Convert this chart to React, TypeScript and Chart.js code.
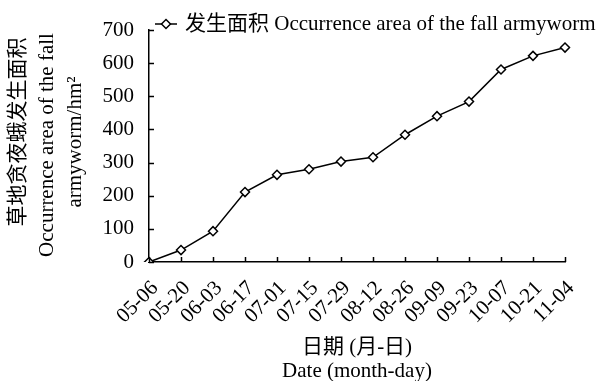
import React, { useEffect, useRef } from "react";
import { Chart, registerables } from "chart.js";

Chart.register(...registerables);

const categories = ["05-06", "05-20", "06-03", "06-17", "07-01", "07-15", "07-29", "08-12", "08-26", "09-09", "09-23", "10-07", "10-21", "11-04"];
const areaValues = [0, 36, 93, 211, 263, 280, 303, 316, 384, 440, 484, 581, 622, 647];
const seriesLabel = "发生面积 Occurrence area of the fall armyworm";
const yTitleLines = ["草地贪夜蛾发生面积", "Occurrence area of the fall", "armyworm/hm²"];
const xTitleLines = ["日期 (月-日)", "Date (month-day)"];
const yMin = 0;
const yMax = 700;
const yStep = 100;

const FONT = "'Liberation Serif', 'Times New Roman', 'Noto Sans CJK SC', serif";
const FS = 21;

const decorPlugin = {
  id: "decor",
  afterDraw(chart: any) {
    const ctx = chart.ctx;
    const xs = chart.scales.x;
    const ys = chart.scales.y;
    const area = chart.chartArea;
    ctx.save();
    ctx.strokeStyle = "#000";
    ctx.lineWidth = 1.5;
    // inward ticks on y
    ys.ticks.forEach((_t: any, i: number) => {
      const py = Math.round(ys.getPixelForTick(i)) + 0.5;
      ctx.beginPath();
      ctx.moveTo(area.left, py);
      ctx.lineTo(area.left + 5, py);
      ctx.stroke();
    });
    // inward ticks on x
    xs.ticks.forEach((_t: any, i: number) => {
      const px = Math.round(xs.getPixelForTick(i)) + 0.5;
      ctx.beginPath();
      ctx.moveTo(px, area.bottom);
      ctx.lineTo(px, area.bottom - 5);
      ctx.stroke();
    });
    ctx.fillStyle = "#000";
    ctx.font = `${FS}px ${FONT}`;
    // x tick labels rotated 45
    const labels: string[] = chart.data.labels;
    labels.forEach((lab, i) => {
      const px = xs.getPixelForTick(i);
      ctx.save();
      ctx.translate(px + 6, area.bottom + 23);
      ctx.rotate(-Math.PI / 4);
      ctx.textAlign = "right";
      ctx.textBaseline = "middle";
      ctx.fillText(lab, 0, 0);
      ctx.restore();
    });
    // legend
    const ly = 24;
    ctx.lineWidth = 1.5;
    ctx.beginPath();
    ctx.moveTo(155, ly);
    ctx.lineTo(177, ly);
    ctx.stroke();
    ctx.fillStyle = "#fff";
    ctx.beginPath();
    ctx.moveTo(166, ly - 4.5);
    ctx.lineTo(170.5, ly);
    ctx.lineTo(166, ly + 4.5);
    ctx.lineTo(161.5, ly);
    ctx.closePath();
    ctx.fill();
    ctx.stroke();
    ctx.fillStyle = "#000";
    ctx.textAlign = "left";
    ctx.textBaseline = "middle";
    ctx.fillText(seriesLabel, 185, ly);
    // x title
    ctx.textAlign = "center";
    const cx = (area.left + area.right) / 2;
    ctx.fillText(xTitleLines[0], cx, 347);
    ctx.fillText(xTitleLines[1], cx, 371);
    // y title
    const ycx = [18, 47, 75];
    const ycy = [132, 145, 142];
    yTitleLines.forEach((t, i) => {
      ctx.save();
      ctx.translate(ycx[i], ycy[i]);
      ctx.rotate(-Math.PI / 2);
      ctx.textAlign = "center";
      ctx.textBaseline = "middle";
      ctx.fillText(t, 0, 0);
      ctx.restore();
    });
    ctx.restore();
  },
};

export default function App() {
  const ref = useRef<HTMLCanvasElement>(null);
  useEffect(() => {
    document.body.style.margin = "0";
    const chart = new Chart(ref.current!, {
      type: "line",
      data: {
        labels: categories,
        datasets: [
          {
            label: seriesLabel,
            data: areaValues,
            borderColor: "#000",
            borderWidth: 1.5,
            pointStyle: "rectRot",
            pointRadius: 4.5,
            pointBackgroundColor: "#fff",
            pointBorderColor: "#000",
            pointBorderWidth: 1.5,
            tension: 0,
          },
        ],
      },
      options: {
        responsive: false,
        animation: false,
        layout: { padding: { left: 0, top: 30, right: 39, bottom: 0 } },
        plugins: { legend: { display: false }, tooltip: { enabled: false } },
        scales: {
          x: {
            offset: false,
            grid: { display: false, drawTicks: false },
            border: { display: true, color: "#000", width: 1.5 },
            ticks: { display: false, autoSkip: false },
            afterFit(scale: any) {
              scale.height = 119;
            },
          },
          y: {
            min: yMin,
            max: yMax,
            grid: { display: false, drawTicks: false },
            border: { display: true, color: "#000", width: 1.5 },
            ticks: {
              stepSize: yStep,
              padding: 15,
              color: "#000",
              font: { family: FONT, size: FS },
            },
            afterFit(scale: any) {
              scale.width = 149;
            },
          },
        },
      },
      plugins: [decorPlugin],
    });
    return () => chart.destroy();
  }, []);
  return (
    <div style={{ position: "fixed", left: 0, top: 0, width: 604, height: 381, background: "#fff" }}>
      <canvas ref={ref} width={604} height={381} />
    </div>
  );
}
